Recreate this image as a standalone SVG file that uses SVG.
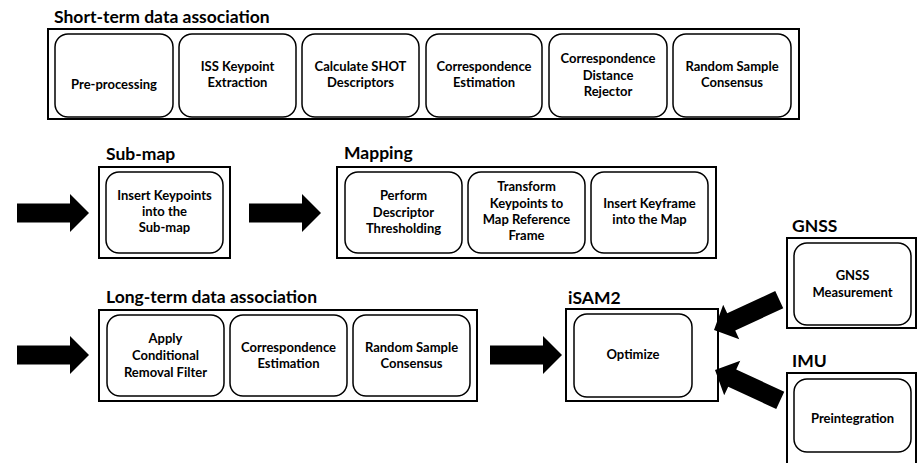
<svg xmlns="http://www.w3.org/2000/svg" width="917" height="463" viewBox="0 0 917 463">
  <style>
    .frame { fill: #ffffff; stroke: #000000; stroke-width: 2; }
    .step { fill: #ffffff; stroke: #000000; stroke-width: 1.5; }
    .title { font-family: Lato, "Open Sans", sans-serif; font-weight: 700; font-size: 17.5px; fill: #000000; }
    .label { font-family: Lato, "Open Sans", sans-serif; font-weight: 700; font-size: 13px; fill: #000000; text-anchor: middle; }
    .arrow { fill: #000000; }
  </style>
  <defs>
    <!-- block arrow pointing right, tip at the origin -->
    <path id="blockArrow" d="M-72,-9.5 L-19,-9.5 L-19,-19 L0,0 L-19,19 L-19,9.5 L-72,9.5 Z"/>
  </defs>
  <rect width="917" height="463" fill="#ffffff"/>

  <!-- Short-term data association -->
  <g id="short-term">
    <text class="title" x="54" y="22.5">Short-term data association</text>
    <rect class="frame" x="48" y="29" width="751" height="90"/>
    <g id="st-preprocessing">
      <rect class="step" x="55" y="34" width="118" height="83" rx="13"/>
      <text class="label" x="114" y="89">Pre-processing</text>
    </g>
    <g id="st-iss">
      <rect class="step" x="179" y="34" width="117" height="83" rx="13"/>
      <text class="label" x="237.5" y="71">ISS Keypoint</text>
      <text class="label" x="237.5" y="87">Extraction</text>
    </g>
    <g id="st-shot">
      <rect class="step" x="302" y="34" width="117" height="83" rx="13"/>
      <text class="label" x="360.5" y="71">Calculate SHOT</text>
      <text class="label" x="360.5" y="87">Descriptors</text>
    </g>
    <g id="st-correspondence">
      <rect class="step" x="426" y="34" width="116" height="83" rx="13"/>
      <text class="label" x="484" y="71">Correspondence</text>
      <text class="label" x="484" y="87">Estimation</text>
    </g>
    <g id="st-rejector">
      <rect class="step" x="549" y="34" width="118" height="83" rx="13"/>
      <text class="label" x="608" y="63">Correspondence</text>
      <text class="label" x="608" y="80">Distance</text>
      <text class="label" x="608" y="96">Rejector</text>
    </g>
    <g id="st-ransac">
      <rect class="step" x="673" y="34" width="118" height="83" rx="13"/>
      <text class="label" x="732" y="71">Random Sample</text>
      <text class="label" x="732" y="87">Consensus</text>
    </g>
  </g>

  <!-- Sub-map -->
  <g id="sub-map">
    <text class="title" x="106" y="160">Sub-map</text>
    <rect class="frame" x="99" y="167" width="131" height="91"/>
    <g id="sm-insert">
      <rect class="step" x="106" y="172" width="117" height="81" rx="13"/>
      <text class="label" x="164.5" y="200">Insert Keypoints</text>
      <text class="label" x="164.5" y="216">into the</text>
      <text class="label" x="164.5" y="232">Sub-map</text>
    </g>
  </g>

  <!-- Mapping -->
  <g id="mapping">
    <text class="title" x="344" y="159">Mapping</text>
    <rect class="frame" x="337" y="167" width="379" height="91"/>
    <g id="mp-threshold">
      <rect class="step" x="345" y="172" width="117" height="81" rx="13"/>
      <text class="label" x="403.5" y="200">Perform</text>
      <text class="label" x="403.5" y="216.5">Descriptor</text>
      <text class="label" x="403.5" y="232.5">Thresholding</text>
    </g>
    <g id="mp-transform">
      <rect class="step" x="468" y="172" width="117" height="81" rx="13"/>
      <text class="label" x="526.5" y="191">Transform</text>
      <text class="label" x="526.5" y="207.5">Keypoints to</text>
      <text class="label" x="526.5" y="224">Map Reference</text>
      <text class="label" x="526.5" y="240">Frame</text>
    </g>
    <g id="mp-keyframe">
      <rect class="step" x="591" y="172" width="117" height="81" rx="13"/>
      <text class="label" x="649.5" y="207.5">Insert Keyframe</text>
      <text class="label" x="649.5" y="224">into the Map</text>
    </g>
  </g>

  <!-- Long-term data association -->
  <g id="long-term">
    <text class="title" x="106" y="303">Long-term data association</text>
    <rect class="frame" x="99" y="310" width="378" height="91"/>
    <g id="lt-filter">
      <rect class="step" x="107" y="315" width="117" height="81" rx="13"/>
      <text class="label" x="165.5" y="343">Apply</text>
      <text class="label" x="165.5" y="360">Conditional</text>
      <text class="label" x="165.5" y="377">Removal Filter</text>
    </g>
    <g id="lt-correspondence">
      <rect class="step" x="230" y="315" width="117" height="81" rx="13"/>
      <text class="label" x="288.5" y="352">Correspondence</text>
      <text class="label" x="288.5" y="368">Estimation</text>
    </g>
    <g id="lt-ransac">
      <rect class="step" x="353" y="315" width="117" height="81" rx="13"/>
      <text class="label" x="411.5" y="352">Random Sample</text>
      <text class="label" x="411.5" y="368">Consensus</text>
    </g>
  </g>

  <!-- iSAM2 -->
  <g id="isam2">
    <text class="title" x="568" y="304">iSAM2</text>
    <rect class="frame" x="566" y="309" width="152" height="92"/>
    <g id="isam2-optimize">
      <rect class="step" x="574" y="314" width="118" height="83" rx="13"/>
      <text class="label" x="633" y="359">Optimize</text>
    </g>
  </g>

  <!-- GNSS -->
  <g id="gnss">
    <text class="title" x="792" y="232">GNSS</text>
    <rect class="frame" x="787" y="238" width="129" height="90"/>
    <g id="gnss-measurement">
      <rect class="step" x="794" y="243" width="117" height="82" rx="13"/>
      <text class="label" x="852.5" y="280">GNSS</text>
      <text class="label" x="852.5" y="297">Measurement</text>
    </g>
  </g>

  <!-- IMU -->
  <g id="imu">
    <text class="title" x="792" y="367">IMU</text>
    <rect class="frame" x="787" y="373" width="129" height="95"/>
    <g id="imu-preintegration">
      <rect class="step" x="794" y="379" width="117" height="73" rx="13"/>
      <text class="label" x="852.5" y="423">Preintegration</text>
    </g>
  </g>

  <!-- connectors -->
  <g id="connectors" class="arrow">
    <use href="#blockArrow" transform="translate(89,213)"/>
    <use href="#blockArrow" transform="translate(321,213)"/>
    <use href="#blockArrow" transform="translate(89,355)"/>
    <use href="#blockArrow" transform="translate(562,355)"/>
    <use href="#blockArrow" transform="translate(714,330) rotate(155)"/>
    <use href="#blockArrow" transform="translate(715,370) rotate(205)"/>
  </g>
</svg>
